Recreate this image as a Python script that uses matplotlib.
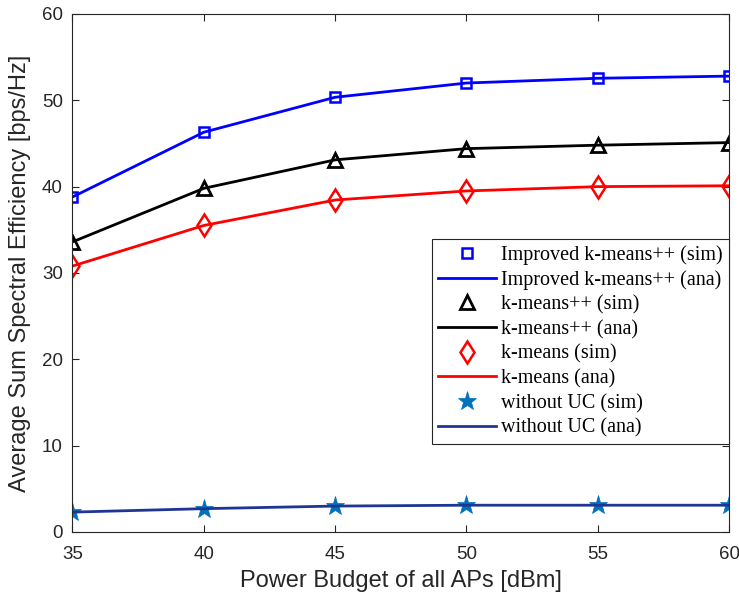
import matplotlib.pyplot as plt

power = [35, 40, 45, 50, 55, 60]
improved_kpp = [38.8, 46.3, 50.35, 52.0, 52.55, 52.8]
kpp = [33.6, 39.8, 43.1, 44.4, 44.8, 45.1]
kmeans = [30.8, 35.5, 38.45, 39.5, 40.0, 40.1]
without_uc = [2.3, 2.7, 3.0, 3.1, 3.1, 3.1]

plt.rcParams['font.family'] = ['Liberation Sans', 'DejaVu Sans']

fig = plt.figure(figsize=(7.39, 5.99), dpi=100)
ax = fig.add_axes([0.0981, 0.1119, 0.8884, 0.8648])

lw = 2
ax.plot(power, improved_kpp, 's', color='#0000ff', mfc='none', ms=7.5, mew=1.8, label='Improved k-means++ (sim)')
ax.plot(power, improved_kpp, '-', color='#0000ff', lw=lw, label='Improved k-means++ (ana)')
ax.plot(power, kpp, '^', color='black', mfc='none', ms=10, mew=2, label='k-means++ (sim)')
ax.plot(power, kpp, '-', color='black', lw=lw, label='k-means++ (ana)')
ax.plot(power, kmeans, 'd', color='#ff0000', mfc='none', ms=11.5, mew=1.8, label='k-means (sim)')
ax.plot(power, kmeans, '-', color='#ff0000', lw=lw, label='k-means (ana)')
ax.plot(power, without_uc, '*', color='#0072bd', ms=14, mew=0.5, label='without UC (sim)')
ax.plot(power, without_uc, '-', color='#1f3594', lw=lw, label='without UC (ana)')

ax.set_xlim(35, 60)
ax.set_ylim(0, 60)
ax.set_xticks(power)
ax.set_yticks(range(0, 61, 10))
ax.tick_params(direction='in', top=True, right=True, labelsize=13.5, length=5,
               color='#262626', labelcolor='#262626')
ax.tick_params(axis='x', pad=10)
ax.tick_params(axis='y', pad=7)
for s in ax.spines.values():
    s.set_color('#262626')
    s.set_linewidth(0.8)

ax.set_xlabel('Power Budget of all APs [dBm]', fontsize=17, color='#262626', labelpad=5)
ax.set_ylabel('Average Sum Spectral Efficiency [bps/Hz]', fontsize=17, color='#262626', labelpad=8)

leg = ax.legend(loc='lower right', bbox_to_anchor=(1.0, 0.17), borderaxespad=0,
                prop={'family': 'Liberation Serif', 'size': 14.5}, fancybox=False,
                edgecolor='#262626', framealpha=1, handlelength=2.9, labelspacing=0.27,
                handletextpad=0.25, borderpad=0.3)
leg.get_frame().set_linewidth(0.8)

fig.savefig('out.png', dpi=100)
